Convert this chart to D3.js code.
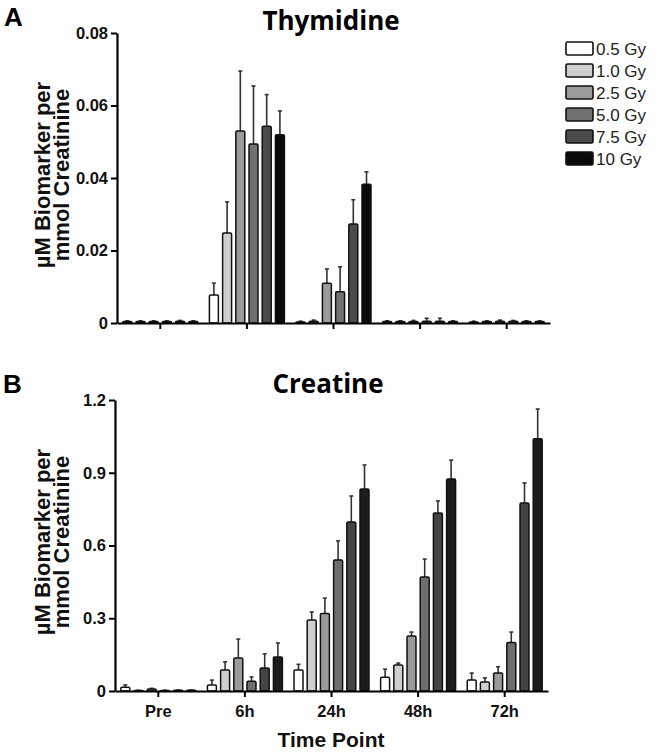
<!DOCTYPE html>
<html>
<head>
<meta charset="utf-8">
<script src="https://cdn.jsdelivr.net/npm/d3@7"></script>
<style>
  html, body { margin: 0; padding: 0; background: #fff; }
  svg { display: block; }
</style>
</head>
<body>
<svg id="chart" width="657" height="755"></svg>
<script>
// ---------- DATA ----------
const timePoints = ["Pre", "6h", "24h", "48h", "72h"];
const doses = ["0.5 Gy", "1.0 Gy", "2.5 Gy", "5.0 Gy", "7.5 Gy", "10 Gy"];

// Thymidine: mean per dose, one array per time point
const thyPre = [0.0004, 0.0004, 0.0004, 0.0004, 0.0005, 0.0004];
const thy6h  = [0.0077, 0.0248, 0.0530, 0.0494, 0.0543, 0.0519];
const thy24h = [0.0003, 0.0005, 0.0110, 0.0086, 0.0273, 0.0383];
const thy48h = [0.0004, 0.0004, 0.0004, 0.0005, 0.0005, 0.0004];
const thy72h = [0.0003, 0.0004, 0.0005, 0.0005, 0.0004, 0.0004];
// Thymidine: error (SEM)
const thyErrPre = [0.0002, 0.0002, 0.0002, 0.0002, 0.0002, 0.0002];
const thyErr6h  = [0.0033, 0.0086, 0.0165, 0.0160, 0.0087, 0.0066];
const thyErr24h = [0.0002, 0.0003, 0.0039, 0.0069, 0.0067, 0.0034];
const thyErr48h = [0.0002, 0.0002, 0.0003, 0.0008, 0.0008, 0.0002];
const thyErr72h = [0.0002, 0.0002, 0.0003, 0.0002, 0.0002, 0.0002];

// Creatine: mean per dose, one array per time point
const crePre = [0.015, 0.002, 0.008, 0.002, 0.003, 0.003];
const cre6h  = [0.025, 0.087, 0.136, 0.040, 0.095, 0.140];
const cre24h = [0.087, 0.293, 0.320, 0.540, 0.697, 0.833];
const cre48h = [0.057, 0.107, 0.227, 0.470, 0.734, 0.874];
const cre72h = [0.045, 0.037, 0.074, 0.200, 0.775, 1.040];
// Creatine: error (SEM)
const creErrPre = [0.010, 0.001, 0.003, 0.001, 0.001, 0.001];
const creErr6h  = [0.020, 0.033, 0.078, 0.018, 0.058, 0.058];
const creErr24h = [0.023, 0.033, 0.063, 0.079, 0.107, 0.099];
const creErr48h = [0.033, 0.008, 0.016, 0.074, 0.050, 0.078];
const creErr72h = [0.029, 0.017, 0.026, 0.043, 0.083, 0.123];

const thyTicks = [0, 0.02, 0.04, 0.06, 0.08];
const thyTickLabels = ["0", "0.02", "0.04", "0.06", "0.08"];
const creTicks = [0, 0.3, 0.6, 0.9, 1.2];
const creTickLabels = ["0", "0.3", "0.6", "0.9", "1.2"];

const doseColors = ["#ffffff", "#cfcfcf", "#9b9b9b", "#717171", "#4b4b4b", "#0a0a0a"];
const doseColorsB = ["#ffffff", "#cfcfcf", "#9b9b9b", "#6e6e6e", "#444444", "#1c1c1c"];

// ---------- BUILD ----------
function build(means, errs) {
  const rows = [];
  timePoints.forEach((tp, i) => {
    doses.forEach((d, j) => {
      rows.push({ tp, dose: d, value: means[i][j], err: errs[i][j] });
    });
  });
  return rows;
}

const thyData = build([thyPre, thy6h, thy24h, thy48h, thy72h],
                      [thyErrPre, thyErr6h, thyErr24h, thyErr48h, thyErr72h]);
const creData = build([crePre, cre6h, cre24h, cre48h, cre72h],
                      [creErrPre, creErr6h, creErr24h, creErr48h, creErr72h]);

const svg = d3.select("#chart");
const color = d3.scaleOrdinal().domain(doses).range(doseColors);
const colorB = d3.scaleOrdinal().domain(doses).range(doseColorsB);
const sans = "Liberation Sans, Arial, sans-serif";

function panel(opts) {
  const { data, x0r, yr, ydom, ticks, tickLabels, showXLabels, col } = opts;
  const g = svg.append("g");
  const x0 = d3.scaleBand().domain(timePoints).range(x0r).padding(0);
  const x1 = d3.scaleBand().domain(doses).range([0, x0.bandwidth()])
    .paddingInner(0.32).paddingOuter(0.44);
  const y = d3.scaleLinear().domain(ydom).range(yr);

  // error bars
  const eb = g.append("g");
  data.forEach(d => {
    const cx = x0(d.tp) + x1(d.dose) + x1.bandwidth() / 2;
    eb.append("line")
      .attr("x1", cx).attr("x2", cx)
      .attr("y1", y(d.value)).attr("y2", y(d.value + d.err))
      .attr("stroke", "#333").attr("stroke-width", 1.6);
    eb.append("line")
      .attr("x1", cx - 2).attr("x2", cx + 2)
      .attr("y1", y(d.value + d.err)).attr("y2", y(d.value + d.err))
      .attr("stroke", "#333").attr("stroke-width", 1.6);
  });

  // bars
  g.append("g").selectAll("rect").data(data).join("rect")
    .attr("x", d => x0(d.tp) + x1(d.dose))
    .attr("width", x1.bandwidth())
    .attr("y", d => y(d.value))
    .attr("height", d => y(0) - y(d.value))
    .attr("rx", 1.2)
    .attr("fill", d => col(d.dose))
    .attr("stroke", "#111")
    .attr("stroke-width", 1.5);

  // y axis
  const yAxis = d3.axisLeft(y).tickValues(ticks)
    .tickFormat((d, i) => tickLabels[i]).tickSize(6).tickSizeOuter(0);
  const ya = g.append("g").attr("transform", `translate(${x0r[0]},0)`).call(yAxis);
  ya.select(".domain").attr("stroke", "#000").attr("stroke-width", 2.2);
  ya.selectAll(".tick line").attr("stroke", "#000").attr("stroke-width", 2);
  ya.selectAll(".tick text")
    .attr("font-family", sans)
    .attr("font-weight", "bold").attr("font-size", 16.5).attr("fill", "#111")
    .attr("x", -9);

  // x axis
  const xAxis = d3.axisBottom(x0).tickSize(6).tickSizeOuter(0)
    .tickFormat(showXLabels ? (d => d) : (() => ""));
  const xa = g.append("g").attr("transform", `translate(0,${yr[0]})`).call(xAxis);
  xa.select(".domain").attr("stroke", "#000").attr("stroke-width", 2.2);
  xa.selectAll(".tick line").attr("stroke", "#000").attr("stroke-width", 2);
  xa.selectAll(".tick text")
    .attr("font-family", sans)
    .attr("font-weight", "bold").attr("font-size", 16.5).attr("fill", "#111")
    .attr("y", 14);
  return { x0, y };
}

// Panel A: Thymidine
panel({ data: thyData, x0r: [117, 550], yr: [323, 33], ydom: [0, 0.08],
        ticks: thyTicks, tickLabels: thyTickLabels, showXLabels: false, col: color });
// Panel B: Creatine
panel({ data: creData, x0r: [115, 548], yr: [691, 400], ydom: [0, 1.2],
        ticks: creTicks, tickLabels: creTickLabels, showXLabels: true, col: colorB });

// Titles & panel letters
svg.append("text").attr("x", 4).attr("y", 26).text("A")
  .attr("font-family", sans).attr("font-weight", "bold").attr("font-size", 26);
svg.append("text").attr("x", 3).attr("y", 393).text("B")
  .attr("font-family", sans).attr("font-weight", "bold").attr("font-size", 26);
svg.append("text").attr("x", 331).attr("y", 30).attr("text-anchor", "middle")
  .text("Thymidine").attr("font-family", "Open Sans, sans-serif")
  .attr("font-weight", "bold").attr("font-size", 26);
svg.append("text").attr("x", 328).attr("y", 393).attr("text-anchor", "middle")
  .text("Creatine").attr("font-family", "Open Sans, sans-serif")
  .attr("font-weight", "bold").attr("font-size", 26);

// Y axis titles
function yTitle(cy) {
  const t = svg.append("text")
    .attr("transform", `translate(0,${cy}) rotate(-90)`)
    .attr("text-anchor", "middle")
    .attr("font-family", sans).attr("font-weight", "bold").attr("font-size", 22)
    .attr("fill", "#111");
  t.append("tspan").attr("x", 0).attr("y", 50).text("\u00B5M Biomarker per");
  t.append("tspan").attr("x", 0).attr("y", 69).text("mmol Creatinine");
}
yTitle(175);
yTitle(542);

// X axis title
svg.append("text").attr("x", 331).attr("y", 747).attr("text-anchor", "middle")
  .text("Time Point").attr("font-family", sans)
  .attr("font-weight", "bold").attr("font-size", 21).attr("fill", "#111");

// Legend
const lg = svg.append("g");
doses.forEach((d, i) => {
  const yy = 42 + i * 22;
  lg.append("rect").attr("x", 566).attr("y", yy).attr("width", 27).attr("height", 13)
    .attr("rx", 1.5).attr("fill", color(d)).attr("stroke", "#111").attr("stroke-width", 1.6);
  lg.append("text").attr("x", 596).attr("y", yy + 13).text(d)
    .attr("font-family", sans).attr("font-size", 17).attr("fill", "#222");
});
</script>
</body>
</html>
